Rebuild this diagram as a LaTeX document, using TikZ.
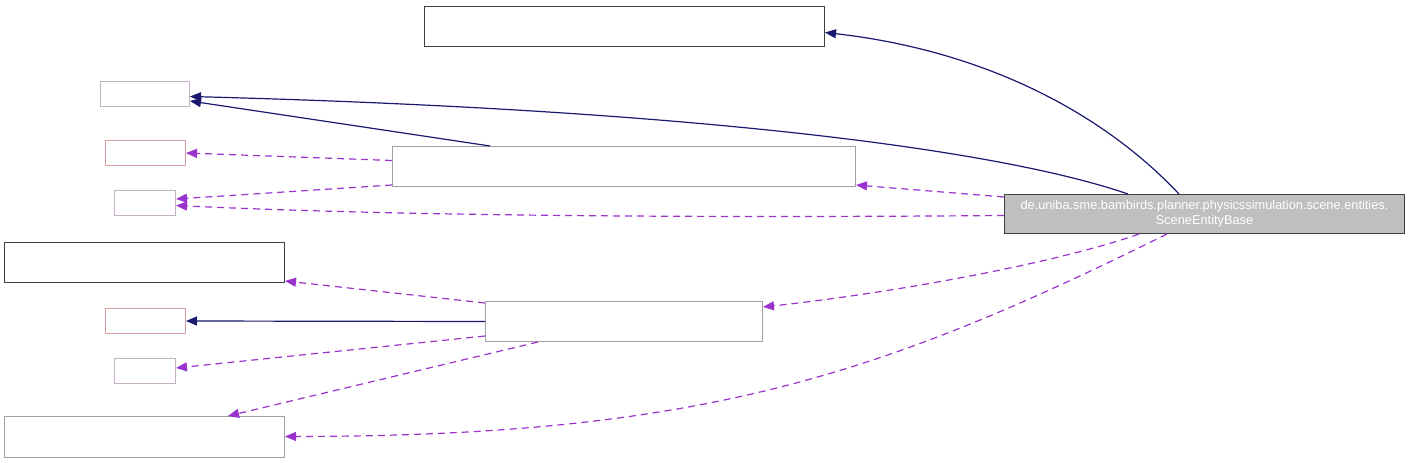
\documentclass[tikz,border=0pt]{standalone}
\usepackage{fontspec}
\setmainfont{Liberation Sans}
\usetikzlibrary{arrows.meta,calc}
\definecolor{navyline}{HTML}{191970}
\definecolor{orchidline}{HTML}{9A32CD}
\definecolor{darkborder}{HTML}{404040}
\definecolor{greyborder}{HTML}{A0A0A0}
\definecolor{pinkborder}{HTML}{C4B0C4}
\definecolor{redborder}{HTML}{D8A0A0}
\definecolor{mainfill}{HTML}{BFBFBF}
\begin{document}
\begin{tikzpicture}[x=1pt,y=-1pt,
  box/.style={draw, inner sep=0pt, anchor=north west, line width=1pt},
  uses/.style={draw=navyline, line width=1.2pt, -{Triangle[length=11pt,width=9pt]}},
  dep/.style={draw=orchidline, line width=1.2pt, dash pattern=on 7pt off 5pt, -{Triangle[length=11pt,width=9pt]}}]
\useasboundingbox (0,0) rectangle (1409,463);

\node[box, draw=darkborder, minimum width=400pt, minimum height=40pt] (A) at (424,6) {};
\node[box, draw=pinkborder, minimum width=89pt, minimum height=25pt] (B1) at (100,81) {};
\node[box, draw=redborder, minimum width=80pt, minimum height=25pt] (B2) at (105,140) {};
\node[box, draw=pinkborder, minimum width=61pt, minimum height=25pt] (B3) at (114,190) {};
\node[box, draw=greyborder, minimum width=463pt, minimum height=40pt] (M) at (392,146) {};
\node[box, draw=darkborder, fill=mainfill, minimum width=400pt, minimum height=39pt,
      text=white, align=center, font=\fontsize{12.8}{15}\selectfont] (main) at (1004,194)
      {de.uniba.sme.bambirds.planner.physicssimulation.scene.entities.\\SceneEntityBase};
\node[box, draw=darkborder, minimum width=280pt, minimum height=40pt] (L1) at (4,242) {};
\node[box, draw=greyborder, minimum width=277pt, minimum height=40pt] (N) at (485,301) {};
\node[box, draw=redborder, minimum width=80pt, minimum height=25pt] (C1) at (105,308) {};
\node[box, draw=pinkborder, minimum width=61pt, minimum height=25pt] (C2) at (114,358) {};
\node[box, draw=greyborder, minimum width=280pt, minimum height=41pt] (L2) at (4,416) {};

% solid (uses) edges
\draw[uses] ($(main.north west)+(175,0)$) .. controls (1100,110) and (980,50) .. ($(A.east)+(0,6)$);
\draw[uses] ($(main.north west)+(124,0)$) .. controls (1000,150) and (700,110) .. ($(B1.east)+(0,2.5)$);
\draw[uses] ($(M.north west)+(98,0)$) -- ($(B1.east)+(0,7)$);
\draw[uses] (N.west) -- (C1.east);

% dashed (dependency) edges
\draw[dep] ($(M.west)+(0,-6)$) -- (B2.east);
\draw[dep] ($(M.south west)+(0,-2)$) -- ($(B3.east)+(0,-4)$);
\draw[dep] ($(main.west)+(0,1.5)$) .. controls (700,218) and (400,216) .. ($(B3.east)+(0,2.5)$);
\draw[dep] ($(main.north west)+(0,3)$) -- ($(M.south east)+(0,-2)$);
\draw[dep] ($(N.north west)+(0,2)$) -- ($(L1.south east)+(0,-2)$);
\draw[dep] ($(N.south west)+(0,-6)$) -- ($(C2.east)+(0,-3)$);
\draw[dep] ($(N.south west)+(53,0)$) -- ($(L2.north west)+(224,0)$);
\draw[dep] ($(main.south west)+(135,0)$) .. controls (1060,262) and (900,292) .. ($(N.north east)+(0,6)$);
\draw[dep] ($(main.south west)+(163,0)$) .. controls (880,376) and (700,436) .. ($(L2.east)+(0,-0.5)$);
\end{tikzpicture}
\end{document}
